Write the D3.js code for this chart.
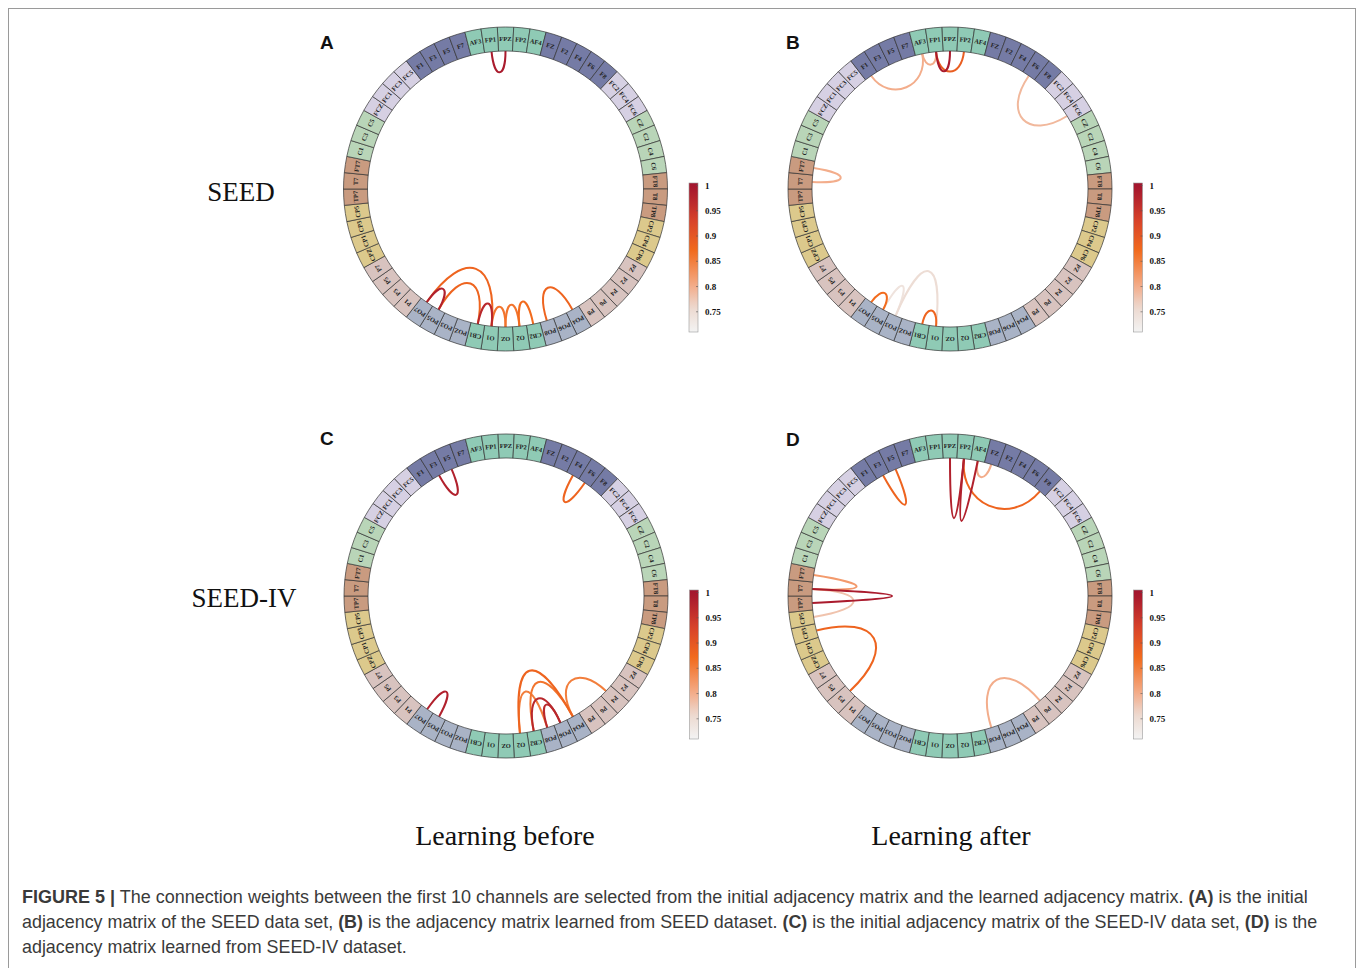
<!DOCTYPE html>
<html>
<head>
<meta charset="utf-8">
<script src="https://cdn.jsdelivr.net/npm/d3@7"></script>
<style>
  body { margin: 0; background: #fff; }
  .ring text { font-family: "Liberation Serif", serif; font-weight: bold; font-size: 6.5px; fill: #222; }
  .cbar text { font-family: "Liberation Serif", serif; font-weight: bold; font-size: 9px; fill: #111; }
  .big { font-family: "Liberation Serif", serif; fill: #111; }
  .letter { font-family: "Liberation Sans", Arial, sans-serif; font-weight: bold; font-size: 19px; fill: #111; }
  .caption { font-family: "Liberation Sans", Arial, sans-serif; font-size: 18px; fill: #3a3a3a; }
</style>
</head>
<body>
<svg id="fig" width="1362" height="968"></svg>
<script>
// channels round the ring, clockwise from FPZ at 12 o'clock
var channels = ["FPZ","FP2","AF4","FZ","F2","F4","F6","F8","FC2","FC4","FC6",
  "CZ","C2","C4","C6","FT8","T8","TP8","CP2","CP4","CP6","PZ","P2","P4","P6","P8",
  "PO4","PO6","PO8","CB2","O2","OZ","O1","CB1","POZ","PO3","PO5","PO7",
  "P1","P3","P5","P7","CPZ","CP1","CP3","CP5","TP7","T7","FT7","C1","C3","C5",
  "FCZ","FC1","FC3","FC5","F1","F3","F5","F7","AF3","FP1"];

// colour of each scalp region
var regionColor = {
  pole: "#8fcab5", F: "#757ba5", FC: "#d6d0e3", C: "#b9d5b8", T: "#c99b80",
  CP: "#dcc98c", P: "#d8c3bf", PO: "#a9b3c6"
};
function regionOf(ch) {
  if (/^(FP|AF|O|CB)/.test(ch)) return "pole";
  if (/^(FT|T|TP)/.test(ch)) return "T";
  if (/^FC/.test(ch)) return "FC";
  if (/^CP/.test(ch)) return "CP";
  if (/^PO/.test(ch)) return "PO";
  if (/^F/.test(ch)) return "F";
  if (/^C/.test(ch)) return "C";
  return "P";
}

// connections: [channel, channel, weight, curve depth]
var linksA = [
  ["FP1","FPZ",0.99,21],
  ["PO7","PO5",0.98,20],
  ["PO7","O1",0.88,50],
  ["PO5","CB1",0.88,36],
  ["CB1","O1",0.97,22],
  ["O1","OZ",0.86,20],
  ["OZ","O2",0.86,22],
  ["O2","CB2",0.87,24],
  ["PO8","PO4",0.88,30]
];
var linksB = [
  ["FP1","FPZ",0.99,20],
  ["FP1","FP2",0.89,20],
  ["AF3","FP1",0.80,12],
  ["F1","AF3",0.80,25],
  ["F6","FC6",0.79,35],
  ["FT7","T7",0.80,28],
  ["PO7","PO5",0.87,15],
  ["PO5","PO3",0.74,30],
  ["PO3","O1",0.75,52],
  ["CB1","O1",0.88,15]
];
var linksC = [
  ["F3","F5",0.98,25],
  ["F4","F6",0.88,27],
  ["PO7","PO5",0.98,25],
  ["O2","PO4",0.88,58],
  ["O2","PO8",0.85,40],
  ["CB2","PO4",0.86,45],
  ["PO8","PO6",0.97,22],
  ["CB2","PO6",0.97,30],
  ["PO4","P4",0.85,30]
];
var linksD = [
  ["F3","F5",0.88,36],
  ["FPZ","FP2",0.98,60],
  ["FP2","AF4",0.98,62],
  ["AF4","FZ",0.80,15],
  ["FP2","F8",0.88,35],
  ["FT7","T7",0.82,44],
  ["T7","TP7",0.99,80],
  ["T7","CP5",0.78,41],
  ["CP3","P3",0.88,48],
  ["PO8","P6",0.80,40]
];

var cbarTicks = [1, 0.95, 0.9, 0.85, 0.8, 0.75];
var rowLabels = ["SEED", "SEED-IV"];
var colLabels = ["Learning before", "Learning after"];

var panels = [
  {letter: "A", links: linksA, cx: 505.5, cy: 189, lx: 320, ly: 49},
  {letter: "B", links: linksB, cx: 950, cy: 189, lx: 786, ly: 49},
  {letter: "C", links: linksC, cx: 506, cy: 596, lx: 320, ly: 445},
  {letter: "D", links: linksD, cx: 950, cy: 596, lx: 786, ly: 446}
];

var captionLines = [
  [["FIGURE 5 |", 1], [" The connection weights between the first 10 channels are selected from the initial adjacency matrix and the learned adjacency matrix. ", 0], ["(A)", 1], [" is the initial", 0]],
  [["adjacency matrix of the SEED data set, ", 0], ["(B)", 1], [" is the adjacency matrix learned from SEED dataset. ", 0], ["(C)", 1], [" is the initial adjacency matrix of the SEED-IV data set, ", 0], ["(D)", 1], [" is the", 0]],
  [["adjacency matrix learned from SEED-IV dataset.", 0]]
];

var svg = d3.select("#fig");
var rIn = 138, rOut = 162;
var step = 2 * Math.PI / channels.length;
var idx = {};
channels.forEach(function(c, i) { idx[c] = i; });

var color = d3.scaleLinear()
  .domain([0.71, 0.76, 0.80, 0.87, 0.93, 1.0])
  .range(["#f3f3f3", "#ecd8ce", "#f3ad8b", "#f26b1d", "#d8432a", "#a2142e"]);

// figure frame
svg.append("rect").attr("x", 8.5).attr("y", 8.5).attr("width", 1347).attr("height", 980)
  .attr("fill", "none").attr("stroke", "#9a9a9a").attr("stroke-width", 1);

function pol(a, r) { return [r * Math.sin(a), -r * Math.cos(a)]; }

var arc = d3.arc().innerRadius(rIn).outerRadius(rOut);

panels.forEach(function(p, pi) {
  var g = svg.append("g").attr("transform", "translate(" + p.cx + "," + p.cy + ")");

  // links
  g.append("g").selectAll("path")
    .data(p.links.slice().sort(function(a, b) { return a[2] - b[2]; }))
    .enter().append("path")
    .attr("fill", "none")
    .attr("stroke", function(d) { return color(d[2]); })
    .attr("stroke-width", 2)
    .attr("d", function(d) {
      var a1 = idx[d[0]] * step, a2 = idx[d[1]] * step;
      var rc = rIn - d[3] / 0.75;
      var p0 = pol(a1, rIn), p1 = pol(a1, rc), p2 = pol(a2, rc), p3 = pol(a2, rIn);
      var path = d3.path();
      path.moveTo(p0[0], p0[1]);
      path.bezierCurveTo(p1[0], p1[1], p2[0], p2[1], p3[0], p3[1]);
      return path.toString();
    });

  // ring
  var ring = g.append("g").attr("class", "ring");
  ring.selectAll("path").data(channels).enter().append("path")
    .attr("d", function(d, i) { return arc({startAngle: (i - 0.5) * step, endAngle: (i + 0.5) * step}); })
    .attr("fill", function(d) { return regionColor[regionOf(d)]; })
    .attr("stroke", "#333").attr("stroke-width", 0.7);
  ring.selectAll("text").data(channels).enter().append("text")
    .attr("transform", function(d, i) {
      return "rotate(" + (i * 360 / channels.length) + ") translate(0," + (-(rIn + rOut) / 2) + ")";
    })
    .attr("text-anchor", "middle").attr("dy", "0.35em")
    .text(function(d) { return d; })
    .each(function() {
      var w = this.getComputedTextLength();
      if (w > 13) d3.select(this).attr("textLength", 13).attr("lengthAdjust", "spacingAndGlyphs");
    });

  // panel letter
  svg.append("text").attr("class", "letter").attr("x", p.lx).attr("y", p.ly).text(p.letter);

  // colour bar
  var bx = p.cx + 183.5, top = p.cy - 6, bot = p.cy + 143;
  var y = d3.scaleLinear().domain([0.71, 1.005]).range([bot, top]);
  var gid = "grad" + pi;
  var grad = svg.append("defs").append("linearGradient").attr("id", gid)
    .attr("x1", 0).attr("y1", 1).attr("x2", 0).attr("y2", 0);
  d3.range(0, 1.0001, 0.05).forEach(function(t) {
    var v = 0.71 + t * (1.005 - 0.71);
    grad.append("stop").attr("offset", t).attr("stop-color", color(Math.min(v, 1)));
  });
  var cb = svg.append("g").attr("class", "cbar");
  cb.append("rect").attr("x", bx).attr("y", top).attr("width", 9).attr("height", bot - top)
    .attr("fill", "url(#" + gid + ")").attr("stroke", "#999").attr("stroke-width", 0.6);
  cb.selectAll("line").data(cbarTicks).enter().append("line")
    .attr("x1", bx + 7).attr("x2", bx + 9)
    .attr("y1", function(d) { return y(d); }).attr("y2", function(d) { return y(d); })
    .attr("stroke", "#555").attr("stroke-width", 0.6);
  cb.selectAll("text").data(cbarTicks).enter().append("text")
    .attr("x", bx + 16).attr("y", function(d) { return y(d); }).attr("dy", "0.35em")
    .text(function(d) { return d; });
});

// row and column titles
svg.selectAll(".rowlab").data(rowLabels).enter().append("text")
  .attr("class", "big").attr("text-anchor", "middle").attr("font-size", 27)
  .attr("x", function(d, i) { return i ? 244 : 241; })
  .attr("y", function(d, i) { return 201 + i * 406; })
  .text(function(d) { return d; });
svg.selectAll(".collab").data(colLabels).enter().append("text")
  .attr("class", "big").attr("text-anchor", "middle").attr("font-size", 28)
  .attr("x", function(d, i) { return i ? 951 : 505; })
  .attr("y", 845)
  .text(function(d) { return d; });

// caption, squeezed to the printed line widths
var lineEnds = [1308, 1318, null];
var lastScale = 1;
captionLines.forEach(function(parts, li) {
  var t = svg.append("text").attr("class", "caption").attr("x", 0).attr("y", 0);
  parts.forEach(function(pt) {
    t.append("tspan").attr("font-weight", pt[1] ? "bold" : null).text(pt[0]);
  });
  var w = t.node().getComputedTextLength();
  var s = lineEnds[li] ? (lineEnds[li] - 22) / w : lastScale;
  lastScale = s;
  t.attr("transform", "translate(22," + (903 + li * 25) + ") scale(" + s + ",1)");
});
</script>
</body>
</html>
